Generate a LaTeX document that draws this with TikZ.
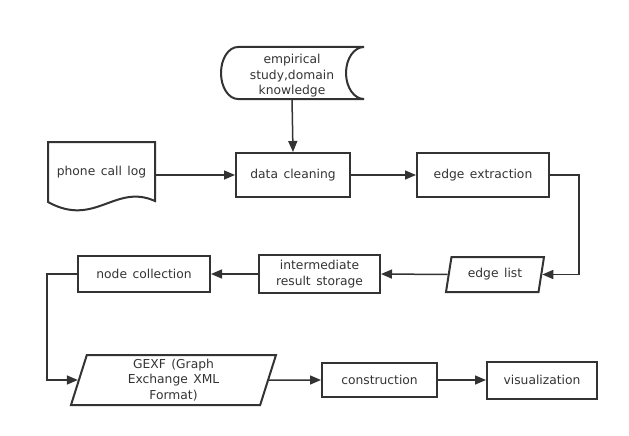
\documentclass[tikz,border=0pt]{standalone}
\usepackage{fontspec}
\setmainfont{DejaVu Sans}[WordSpace=1.4]
\usepackage{tikz}
\usetikzlibrary{arrows.meta,shapes.geometric}
\definecolor{linegray}{HTML}{333333}

\begin{document}
\begin{tikzpicture}[x=1pt,y=-1pt,line width=1.5pt,color=linegray,
  font=\fontsize{12.3}{15.5}\selectfont,
  box/.style={draw,rectangle,line width=2pt,align=center,inner sep=2pt},
  para/.style={draw,trapezium,trapezium left angle=71,trapezium right angle=109,
    trapezium stretches body,line width=2pt,align=center,inner sep=2pt},
  arr/.style={-{Triangle[length=11pt,width=9pt]}}]
\useasboundingbox (0,0) rectangle (629,436);

% Draw stored data and document shapes
\draw[line width=2pt] (238,47) -- (364,47) .. controls (354.1,47) and (346,58.6) .. (346,73)
  .. controls (346,87.4) and (354.1,99) .. (364,99) -- (238,99)
  .. controls (228.6,99) and (221,87.4) .. (221,73)
  .. controls (221,58.6) and (228.6,47) .. (238,47) -- cycle;
\node[align=center,minimum width=143,minimum height=58] (src) at (292,76)
  {empirical\\study,domain\\knowledge};
\draw[line width=2pt] (48,142) -- (155,142) -- (155,201)
  .. controls (115,183) and (95,228) .. (48,202) -- cycle;
\node[minimum width=107,minimum height=60] (log) at (101.5,172) {phone call log};

% Process steps
\node[box,minimum width=114,minimum height=44] (clean) at (293,175) {data cleaning};
\node[box,minimum width=132,minimum height=44] (extract) at (483,175) {edge extraction};
\node[para,minimum width=98,minimum height=35] (elist) at (495,274.5) {edge list};
\node[box,minimum width=121,minimum height=38] (store) at (319.5,274) {intermediate\\result storage};
\node[box,minimum width=132,minimum height=36] (collect) at (144,274) {node collection};
\node[para,minimum width=205,minimum height=50] (gexf) at (173.5,380) {GEXF (Graph\\Exchange XML\\Format)};
\node[box,minimum width=115,minimum height=34] (constr) at (379.5,380) {construction};
\node[box,minimum width=110,minimum height=37] (vis) at (542,380) {visualization};

% Connectors
\draw[arr] (src.south |- 0,99) -- (clean.north);
\draw[arr] (log.east |- clean.west) -- (clean.west);
\draw[arr] (clean.east) -- (extract.east -| extract.west);
\draw[arr] (extract.east) -- ++(29,0) |- (elist.east);
\draw[arr] (elist.west) -- (store.east);
\draw[arr] (store.west) -- (collect.east);
\draw[arr] (collect.west) -- ++(-30,0) |- (gexf.west);
\draw[arr] (gexf.east) -- (constr.west);
\draw[arr] (constr.east) -- (vis.west);

\end{tikzpicture}
\end{document}
